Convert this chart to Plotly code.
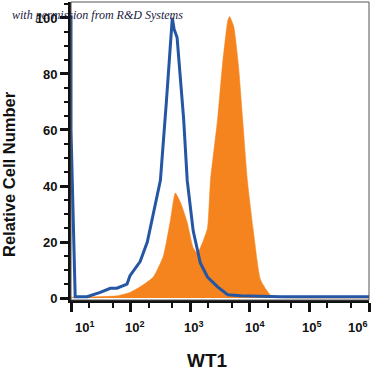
import math
import plotly.graph_objects as go

# Isotype control (blue line): log10 fluorescence, relative count
blue_log = [1.0, 1.0, 1.07, 1.27, 1.49, 1.66, 1.77, 1.94, 1.99, 2.16, 2.28, 2.38, 2.50, 2.60, 2.67,
            2.70, 2.73, 2.78, 2.89, 2.95, 3.05, 3.17, 3.29, 3.46, 3.63, 3.85, 4.52, 6.0]
blue_cnt = [101, 60, 0.5, 0.5, 2.0, 3.5, 3.5, 5.0, 8.0, 13, 20, 30, 42, 70, 92,
            100, 96, 93, 64, 42, 24, 12.5, 7.5, 4.0, 1.2, 0.8, 0.5, 0.5]

# WT1 stained (orange fill)
orange_log = [1.0, 1.77, 1.99, 2.16, 2.38, 2.55, 2.67, 2.75, 2.84, 2.95, 3.05, 3.12, 3.21, 3.29,
              3.34, 3.46, 3.54, 3.63, 3.66, 3.73, 3.81, 3.88, 3.96, 4.06, 4.18, 4.35, 4.52, 6.0]
orange_cnt = [0.3, 0.8, 2.0, 4.0, 7.5, 15, 28, 37.5, 34, 27, 18, 16, 20, 25,
              42, 64, 83, 99, 100.5, 97, 83, 64, 42, 24, 6.5, 1.0, 0.2, 0.0]

x_tickvals = [10, 100, 1000, 10000, 100000, 1000000]
x_ticktext = ["10<sup>1</sup>", "10<sup>2</sup>", "10<sup>3</sup>", "10<sup>4</sup>", "10<sup>5</sup>", "10<sup>6</sup>"]
x_label_shift = [14, 4, 4, 5, 3, -11]
y_tickvals = [0, 20, 40, 60, 80, 100]

fig = go.Figure()
fig.add_trace(go.Scatter(
    x=[10 ** v for v in orange_log], y=orange_cnt, mode="lines",
    line=dict(color="#F5841F", width=0.5, shape="spline", smoothing=0.5),
    fill="tozeroy", fillcolor="#F5841F", showlegend=False, hoverinfo="skip"))
fig.add_trace(go.Scatter(
    x=[10 ** v for v in blue_log], y=blue_cnt, mode="lines",
    line=dict(color="#2456A4", width=3), showlegend=False, hoverinfo="skip"))

tickfont = dict(family="Liberation Sans", size=13, color="#111", weight="bold")
annotations = [
    dict(text="Relative Cell Number", xref="paper", yref="paper", x=(9 - 71) / 298,
         y=(300 - 174) / 298, textangle=-90, showarrow=False, xanchor="center", yanchor="middle",
         font=dict(family="Liberation Sans", size=16.5, color="#111", weight="bold")),
    dict(text="WT1", xref="paper", yref="paper", x=(207 - 71) / 298, y=-(360 - 300) / 298,
         showarrow=False, xanchor="center", yanchor="middle",
         font=dict(family="Liberation Sans", size=19, color="#111", weight="bold")),
    dict(text="<i>with permission from R&amp;D Systems</i>", xref="paper", yref="paper",
         x=(10 - 71) / 298, y=(300 - 15) / 298, showarrow=False, xanchor="left", yanchor="middle",
         font=dict(family="Liberation Serif", size=12, color="#1a1a40")),
]
for v, t, s in zip(x_tickvals, x_ticktext, x_label_shift):
    annotations.append(dict(text=t, xref="x", yref="paper", x=math.log10(v), y=0,
                            yshift=-27, xshift=s, showarrow=False, xanchor="center", yanchor="middle",
                            font=dict(family="Liberation Sans", size=13, color="#111", weight="bold")))

fig.update_layout(
    width=371, height=372,
    margin=dict(l=71, r=2, t=2, b=72),
    paper_bgcolor="white", plot_bgcolor="white",
    xaxis=dict(type="log", range=[1, 6], tickvals=x_tickvals, showticklabels=False, automargin=False,
               ticks="outside", ticklen=9, tickwidth=2.5, tickcolor="#111",
               showline=True, linecolor="#111", linewidth=3,
               showgrid=False, zeroline=False,
               minor=dict(ticks="outside", ticklen=5, tickwidth=1.5, tickcolor="#111", showgrid=False)),
    yaxis=dict(range=[-0.7, 105.7], tickvals=y_tickvals, automargin=False,
               ticks="outside", ticklen=8, tickwidth=3, tickcolor="#111",
               showline=True, linecolor="#111", linewidth=3,
               showgrid=False, zeroline=False, tickfont=tickfont,
               minor=dict(dtick=5, ticks="outside", ticklen=4, tickwidth=1.5, tickcolor="#111", showgrid=False)),
    shapes=[dict(type="rect", xref="paper", yref="paper", x0=0, x1=1, y0=0, y1=1,
                 line=dict(color="#555", width=1), fillcolor="rgba(0,0,0,0)", layer="above")],
    annotations=annotations,
)
fig.write_html("out.html", config={"displayModeBar": False},
               post_script="document.body.style.margin='0';")
